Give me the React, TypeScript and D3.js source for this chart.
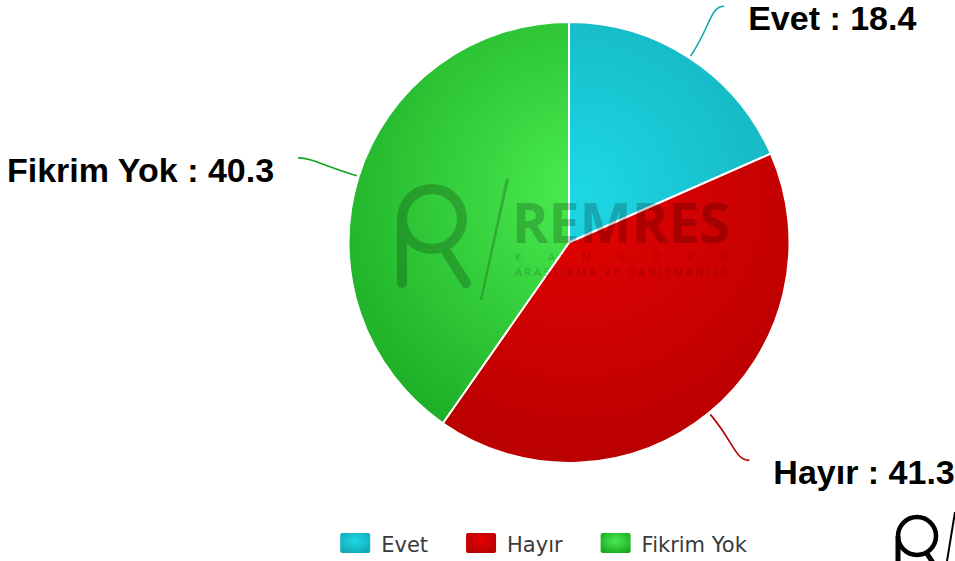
import React from "react";
import * as d3 from "d3";

const categories = ["Evet", "Hayır", "Fikrim Yok"];
const values = [18.4, 41.3, 40.3];
const lightColors = ["#1dd8e4", "#e40202", "#4aec50"];
const darkColors = ["#11a6b2", "#b20000", "#15a31f"];

const W = 955;
const H = 561;
const cx = 569;
const cy = 242.5;
const R = 220.5;

function measure(text: string, font: string): number {
  const c = document.createElement("canvas").getContext("2d");
  if (!c) return text.length * 10;
  c.font = font;
  return c.measureText(text).width;
}

export default function App() {
  const pie = d3.pie<number>().sort(null).startAngle(0).endAngle(2 * Math.PI);
  const arcs = pie(values);
  const arcGen = d3.arc<d3.PieArcDatum<number>>().innerRadius(0).outerRadius(R);

  const legendFont = "21px 'DejaVu Sans'";
  const symW = 30, symH = 20, symGap = 11, itemGap = 38;
  const textWs = categories.map((c) => measure(c, legendFont));
  const itemWs = textWs.map((t) => symW + symGap + t);
  const total = d3.sum(itemWs) + itemGap * (categories.length - 1);
  const legendCenter = 543.5;
  let lx = legendCenter - total / 2;
  const legendX: number[] = [];
  itemWs.forEach((w) => {
    legendX.push(lx);
    lx += w + itemGap;
  });

  return (
    <svg
      width={W}
      height={H}
      style={{ position: "absolute", left: 0, top: 0, background: "#fff" }}
    >
      <defs>
        {categories.map((c, i) => (
          <radialGradient
            key={c}
            id={`g${i}`}
            gradientUnits="userSpaceOnUse"
            cx={10}
            cy={-50}
            r={320}
          >
            <stop offset="0" stopColor={lightColors[i]} />
            <stop offset="1" stopColor={darkColors[i]} />
          </radialGradient>
        ))}
        {categories.map((c, i) => (
          <radialGradient key={c + "l"} id={`l${i}`} cx="0.5" cy="0.4" r="0.7">
            <stop offset="0" stopColor={lightColors[i]} />
            <stop offset="1" stopColor={darkColors[i]} />
          </radialGradient>
        ))}
      </defs>

      <g transform={`translate(${cx},${cy})`}>
        {arcs.map((a, i) => (
          <path
            key={i}
            d={arcGen(a) || ""}
            fill={`url(#g${i})`}
            stroke="#ffffff"
            strokeWidth={2}
            strokeLinejoin="round"
          />
        ))}
      </g>

      {/* watermark */}
      <g opacity={0.2}>
        <circle cx={432} cy={219} r={30} fill="none" stroke="#000" strokeWidth={10} />
        <line x1={402} y1={219} x2={402} y2={283} stroke="#000" strokeWidth={10} strokeLinecap="round" />
        <line x1={447} y1={253} x2={466} y2={283} stroke="#000" strokeWidth={10} strokeLinecap="round" />
        <polygon points="506,178 509,179 482,300 480,300" fill="#000" />
        <text x={512} y={243} fontFamily="'Open Sans', sans-serif" fontWeight={700} fontSize={56} fill="#000" textLength={218} lengthAdjust="spacingAndGlyphs">
          REMRES
        </text>
        <text x={515} y={261} fontFamily="'Open Sans', sans-serif" fontSize={10} fill="#000" textLength={212}>
          KAMUOYU
        </text>
        <text x={515} y={276} fontFamily="'Open Sans', sans-serif" fontSize={11} fill="#000" textLength={212}>
          ARAŞTIRMA VE DANIŞMANLIK
        </text>
      </g>

      {/* connectors and labels */}
      {arcs.map((a, i) => {
        const mid = (a.startAngle + a.endAngle) / 2;
        const sx = cx + (R + 2) * Math.sin(mid);
        const sy = cy - (R + 2) * Math.cos(mid);
        const ex = cx + 284 * Math.sin(mid);
        const ey = cy - 282 * Math.cos(mid);
        const right = Math.sin(mid) > 0;
        const dir = right ? 1 : -1;
        const c1x = sx + (ex - sx) * 0.6;
        const c1y = sy + (ey - sy) * 0.6;
        const c2x = ex - dir * 14;
        const c2y = ey;
        const d = `M${sx},${sy} C${c1x},${c1y} ${c2x},${c2y} ${ex},${ey}`;
        return (
          <g key={i}>
            <path d={d} fill="none" stroke={darkColors[i]} strokeWidth={1.6} />
            <text
              x={ex + dir * 24}
              y={ey + 24}
              textAnchor={right ? "start" : "end"}
              fontFamily="'Liberation Sans', Arial, sans-serif"
              fontWeight="bold"
              fontSize={34}
              fill="#000"
            >
              {`${categories[i]} : ${values[i]}`}
            </text>
          </g>
        );
      })}

      {/* legend */}
      {categories.map((c, i) => (
        <g key={c}>
          <rect
            x={legendX[i]}
            y={533}
            width={symW}
            height={symH}
            rx={2}
            fill={`url(#l${i})`}
          />
          <text
            x={legendX[i] + symW + symGap}
            y={552}
            fontFamily="'DejaVu Sans', sans-serif"
            fontSize={21}
            fill="#3a3a3a"
          >
            {c}
          </text>
        </g>
      ))}

      {/* corner logo */}
      <g>
        <circle cx={917} cy={536} r={19} fill="none" stroke="#000" strokeWidth={4.5} />
        <line x1={898} y1={536} x2={898} y2={565} stroke="#000" strokeWidth={5} />
        <line x1={926} y1={552} x2={935} y2={566} stroke="#000" strokeWidth={5} />
        <polygon points="954,512 956,512 948,561 946,561" fill="#000" />
      </g>
    </svg>
  );
}
